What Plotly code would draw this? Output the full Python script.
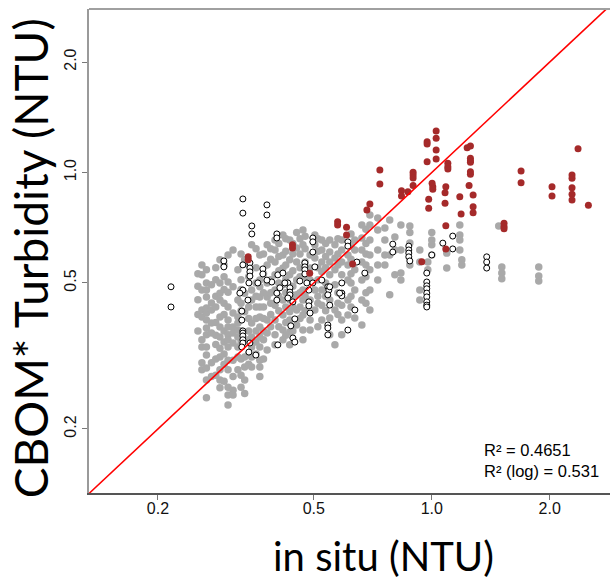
import math
import plotly.graph_objects as go

# In situ turbidity (x) vs CBOM* estimated turbidity (y), NTU, log-log.
# Gray group: values stacked per in situ reading.
gray_x = [0.253, 0.259, 0.266, 0.274, 0.281, 0.288, 0.295, 0.302, 0.311, 0.320,
          0.326, 0.333, 0.341, 0.347, 0.356, 0.364, 0.372, 0.380, 0.388, 0.398,
          0.407, 0.417, 0.424, 0.434, 0.442, 0.452, 0.461, 0.469, 0.475, 0.489,
          0.503, 0.512, 0.524, 0.536, 0.549, 0.566, 0.576, 0.589, 0.611, 0.622,
          0.636, 0.663, 0.679, 0.695, 0.728, 0.759, 0.781, 0.805, 0.834, 0.879,
          0.932, 0.977, 1.000, 1.092, 1.179, 1.193, 1.482, 1.509, 1.875]
gray_y = [
    [0.530, 0.490, 0.450, 0.410, 0.370],
    [0.560, 0.526, 0.478, 0.422, 0.404, 0.350, 0.3345, 0.303, 0.290],
    [0.543, 0.500, 0.478, 0.458, 0.427, 0.414, 0.396, 0.377, 0.361, 0.3345, 0.318, 0.293, 0.272, 0.2434],
    [0.494, 0.441, 0.422, 0.389, 0.365, 0.303, 0.278],
    [0.550, 0.510, 0.460, 0.430, 0.390, 0.360, 0.340, 0.310, 0.280],
    [0.578, 0.500, 0.469, 0.449, 0.404, 0.379, 0.356, 0.332, 0.314, 0.290, 0.272, 0.259],
    [0.560, 0.520, 0.480, 0.440, 0.410, 0.370, 0.345, 0.320, 0.300, 0.270],
    [0.596, 0.503, 0.472, 0.430, 0.396, 0.379, 0.361, 0.350, 0.3345, 0.308, 0.290, 0.260, 0.2475, 0.2325],
    [0.615, 0.488, 0.414, 0.379, 0.365, 0.343, 0.308, 0.278, 0.255, 0.2475],
    [0.543, 0.449, 0.404, 0.389, 0.372, 0.356, 0.3345, 0.314, 0.290],
    [0.600, 0.510, 0.480, 0.440, 0.420, 0.370, 0.345, 0.310, 0.280, 0.260],
    [0.578, 0.469, 0.417, 0.314, 0.295, 0.272, 0.250],
    [0.560, 0.520, 0.430, 0.400, 0.370, 0.350, 0.320, 0.300],
    [0.635, 0.478, 0.449, 0.389, 0.356, 0.3345, 0.314, 0.295],
    [0.620, 0.550, 0.500, 0.460, 0.430, 0.400, 0.370, 0.345, 0.320],
    [0.596, 0.509, 0.488, 0.458, 0.430, 0.404, 0.379, 0.356, 0.3345, 0.308, 0.295, 0.278],
    [0.600, 0.530, 0.470, 0.430, 0.400, 0.370, 0.350, 0.310],
    [0.635, 0.560, 0.500, 0.458, 0.396, 0.365, 0.328],
    [0.620, 0.580, 0.510, 0.470, 0.440, 0.410, 0.380],
    [0.655, 0.615, 0.570, 0.526, 0.478, 0.435, 0.396, 0.361, 0.339],
    [0.640, 0.590, 0.540, 0.500, 0.460, 0.420, 0.380],
    [0.676, 0.596, 0.549, 0.494, 0.449, 0.409, 0.372, 0.350],
    [0.660, 0.610, 0.560, 0.510, 0.470, 0.430, 0.390, 0.360],
    [0.655, 0.578, 0.526, 0.449, 0.417, 0.396, 0.3675, 0.339],
    [0.640, 0.600, 0.540, 0.490, 0.460, 0.430, 0.370],
    [0.686, 0.623, 0.570, 0.509, 0.464, 0.422, 0.384],
    [0.660, 0.600, 0.550, 0.520, 0.470, 0.430, 0.400],
    [0.697, 0.635, 0.478, 0.449, 0.409, 0.372, 0.350],
    [0.670, 0.620, 0.570, 0.520, 0.460, 0.420],
    [0.596, 0.549, 0.509, 0.449, 0.396, 0.372],
    [0.676, 0.635, 0.585, 0.478, 0.422],
    [0.660, 0.610, 0.550, 0.510, 0.460, 0.440, 0.380],
    [0.655, 0.615, 0.570, 0.536, 0.478, 0.435, 0.396],
    [0.640, 0.590, 0.550, 0.500, 0.460, 0.420],
    [0.655, 0.607, 0.570, 0.526, 0.449, 0.401, 0.361],
    [0.635, 0.585, 0.543, 0.494, 0.422, 0.339],
    [0.660, 0.600, 0.560, 0.470, 0.440, 0.410],
    [0.655, 0.615, 0.570, 0.526, 0.435, 0.396, 0.361],
    [0.596, 0.560, 0.509, 0.449, 0.409],
    [0.680, 0.630, 0.580, 0.530, 0.500, 0.460, 0.430],
    [0.655, 0.615, 0.543, 0.478, 0.401],
    [0.719, 0.663, 0.615, 0.570, 0.509, 0.449, 0.384],
    [0.700, 0.640, 0.600, 0.560, 0.520, 0.470, 0.440],
    [0.766, 0.719, 0.655, 0.596, 0.543, 0.478, 0.422],
    [0.751, 0.697, 0.615, 0.560, 0.509],
    [0.706, 0.655, 0.596, 0.560],
    [0.742, 0.596, 0.464],
    [0.667, 0.615, 0.526],
    [0.719, 0.615, 0.532, 0.509],
    [0.715, 0.686, 0.642, 0.560],
    [0.615, 0.570, 0.478, 0.449],
    [0.570, 0.543],
    [0.686, 0.655, 0.635, 0.596],
    [0.603, 0.549],
    [0.719, 0.676, 0.655, 0.615],
    [0.578, 0.560],
    [0.715],
    [0.553, 0.532, 0.513],
    [0.553, 0.522, 0.506],
]

# Open-circle group
open_x = [0.216, 0.216, 0.3295, 0.3295, 0.3795, 0.3795, 0.3473, 0.3473, 0.4023, 0.4023,
          0.2947, 0.2947, 0.3434, 0.3434, 0.3434, 0.3434, 0.3295, 0.3706, 0.3706, 0.4047,
          0.3906, 0.3795, 0.3598, 0.3414, 0.4292, 0.4095, 0.4023, 0.4023, 0.4344, 0.4344,
          0.4344, 0.4606, 0.4743, 0.4743, 0.4743, 0.4743, 0.4971, 0.4971, 0.4971, 0.503,
          0.4799, 0.4856, 0.4856, 0.4856, 0.489, 0.4472, 0.4368, 0.3295, 0.3237, 0.3394,
          0.3275, 0.3275, 0.3295, 0.3295, 0.3295, 0.3295, 0.3295, 0.3275, 0.3434, 0.3414,
          0.3556, 0.442, 0.4472, 0.4047, 0.5429, 0.5461, 0.5429, 0.549, 0.5429, 0.5429,
          0.5429, 0.5894, 0.5894, 0.5894, 0.6107, 0.4169, 0.4217, 0.4292, 0.442, 0.4971,
          0.524, 0.549, 0.582, 0.6107, 0.6107, 0.6364, 0.7952, 0.7952, 0.8736, 0.8736,
          0.8736, 0.8736, 0.879, 1.067, 1.131, 1.131, 1.0, 0.971, 0.971, 0.971,
          0.971, 0.971, 0.971, 0.971, 0.971, 0.971, 1.381, 1.381, 1.381, 0.6437, 0.6747]
open_y = [0.488, 0.430, 0.847, 0.775, 0.816, 0.766, 0.715, 0.680, 0.680, 0.663,
          0.574, 0.553, 0.567, 0.549, 0.536, 0.522, 0.560, 0.546, 0.529, 0.526,
          0.503, 0.509, 0.500, 0.500, 0.500, 0.485, 0.469, 0.449, 0.485, 0.472,
          0.464, 0.506, 0.567, 0.553, 0.543, 0.529, 0.663, 0.647, 0.607, 0.553,
          0.500, 0.478, 0.444, 0.433, 0.414, 0.399, 0.382, 0.478, 0.469, 0.449,
          0.419, 0.396, 0.370, 0.365, 0.3585, 0.350, 0.343, 0.3345, 0.343, 0.324,
          0.318, 0.354, 0.345, 0.339, 0.488, 0.478, 0.464, 0.435, 0.384, 0.377,
          0.361, 0.500, 0.469, 0.461, 0.372, 0.532, 0.500, 0.455, 0.444, 0.500,
          0.509, 0.488, 0.469, 0.647, 0.630, 0.422, 0.638, 0.607, 0.630, 0.615,
          0.603, 0.589, 0.574, 0.642, 0.671, 0.619, 0.596, 0.532, 0.503, 0.491,
          0.482, 0.469, 0.458, 0.444, 0.435, 0.430, 0.589, 0.570, 0.549, 0.570, 0.532]

# Dark red group
red_x = [1.026, 1.026, 0.973, 0.973, 1.026, 1.026, 0.973, 0.737, 0.737, 0.896,
         0.896, 0.896, 0.896, 0.837, 0.869, 0.837, 1.002, 1.006, 1.006, 1.099,
         1.099, 1.099, 1.086, 1.081, 1.081, 0.982, 0.982, 1.179, 1.188, 1.086,
         1.231, 1.255, 1.255, 1.255, 1.255, 1.255, 1.255, 1.245, 1.275, 1.275,
         1.275, 1.529, 1.529, 1.529, 1.690, 1.690, 2.027, 2.027, 2.280, 2.280,
         2.280, 2.280, 2.280, 2.362, 2.510, 0.340, 0.340, 0.441, 0.441, 0.488,
         0.575, 0.575, 0.606, 0.606, 0.628, 1.086, 0.943, 0.683, 0.695]
red_y = [1.297, 1.239, 1.213, 1.196, 1.152, 1.088, 1.070, 1.016, 0.930, 1.001,
         0.984, 0.966, 0.921, 0.892, 0.886, 0.863, 0.935, 0.915, 0.900, 1.059,
         1.037, 1.022, 0.915, 0.881, 0.824, 0.845, 0.799, 0.859, 0.771, 0.716,
         1.168, 1.181, 1.093, 1.077, 1.066, 1.005, 0.989, 0.921, 0.868, 0.807,
         0.777, 0.727, 0.712, 0.702, 1.009, 0.938, 0.915, 0.863, 0.984, 0.964,
         0.909, 0.872, 0.842, 1.161, 0.814, 0.589, 0.578, 0.635, 0.623, 0.531,
         0.734, 0.719, 0.709, 0.676, 0.563, 0.619, 0.571, 0.790, 0.821]

# 1:1 reference line
line_vals = [0.1, 3.0]

tick_vals = [0.2, 0.5, 1.0, 2.0]
tick_text = ["0.2", "0.5", "1.0", "2.0"]

x_range = [0.1334, 2.85]
y_range = [0.1338, 2.79]

gx, gy = [], []
for xv, ys in zip(gray_x, gray_y):
    for yv in ys:
        gx.append(xv)
        gy.append(yv)

fig = go.Figure()
fig.add_trace(go.Scatter(x=gx, y=gy, mode="markers",
                         marker=dict(size=7.5, color="#a9a9a9", line=dict(width=0)),
                         hoverinfo="skip"))
fig.add_trace(go.Scatter(x=open_x, y=open_y, mode="markers",
                         marker=dict(size=6, color="white", line=dict(color="black", width=1)),
                         hoverinfo="skip"))
fig.add_trace(go.Scatter(x=red_x, y=red_y, mode="markers",
                         marker=dict(size=7, color="#a52a2a", line=dict(width=0)),
                         hoverinfo="skip"))
fig.add_trace(go.Scatter(x=line_vals, y=line_vals, mode="lines",
                         line=dict(color="#ff0000", width=1.6), hoverinfo="skip"))

tick_font = dict(family="Liberation Sans, Arial", size=16, color="#111")

fig.update_layout(
    width=610, height=587,
    margin=dict(l=89, r=0, t=9, b=94),
    paper_bgcolor="white", plot_bgcolor="white",
    showlegend=False,
    xaxis=dict(type="log", range=[math.log10(x_range[0]), math.log10(x_range[1])],
               tickvals=tick_vals, ticktext=tick_text, ticks="outside", ticklen=5,
               tickcolor="#777", tickwidth=1, tickfont=tick_font, ticklabelstandoff=-5,
               showgrid=False, zeroline=False, showline=True, linecolor="#555", linewidth=2),
    yaxis=dict(type="log", range=[math.log10(y_range[0]), math.log10(y_range[1])],
               tickvals=tick_vals, ticktext=tick_text, ticks="outside", ticklen=5,
               tickcolor="#777", tickwidth=1, tickfont=tick_font, tickangle=-90,
               showgrid=False, zeroline=False, showline=True, linecolor="#9a9a9a", linewidth=2),
    shapes=[dict(type="line", xref="paper", yref="paper", x0=0, x1=1, y0=1, y1=1,
                 line=dict(color="#a0a0a0", width=2))],
    annotations=[
        dict(text="in situ (NTU)", xref="paper", yref="paper", x=0.566, y=-0.130,
             showarrow=False, xanchor="center", yanchor="middle",
             font=dict(family="Lato", size=40, color="black")),
        dict(text="CBOM* Turbidity (NTU)", xref="paper", yref="paper", x=-0.113, y=0.4855,
             showarrow=False, xanchor="center", yanchor="middle", textangle=-90,
             font=dict(family="Lato", size=46, color="black")),
        dict(text="R² = 0.4651<br>R² (log) = 0.531", xref="paper", yref="paper",
             x=0.754, y=0.067, showarrow=False, xanchor="left", yanchor="middle", align="left",
             font=dict(family="Liberation Sans, Arial", size=16.5, color="black")),
    ],
)

fig.write_html("out.html")
